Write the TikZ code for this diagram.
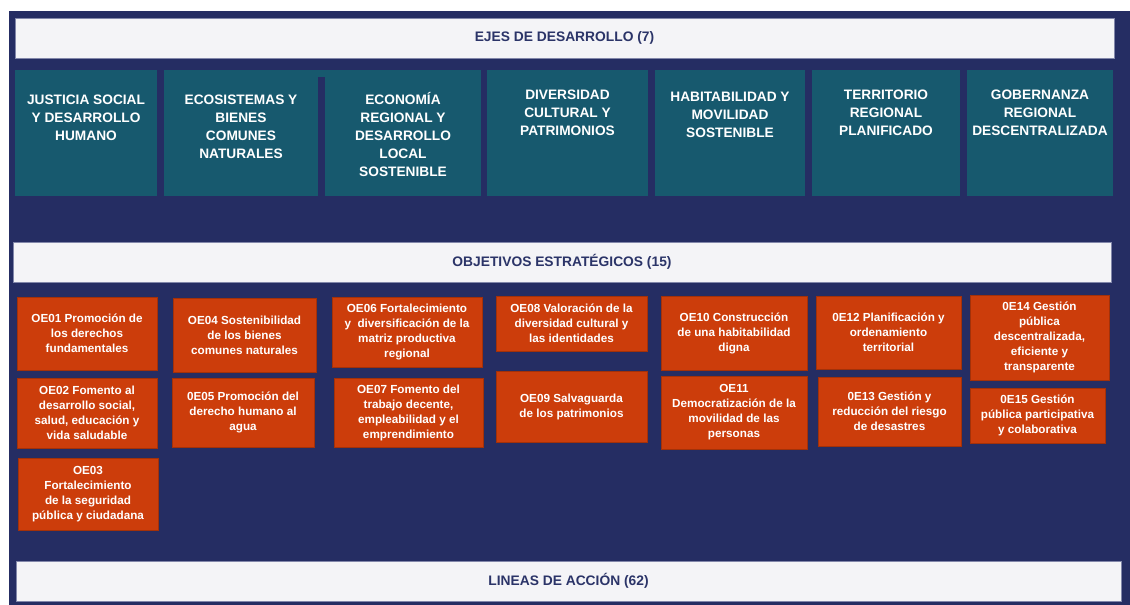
\documentclass[tikz,border=0pt]{standalone}
\usepackage{fontspec}
\setmainfont{Liberation Sans}
\usetikzlibrary{positioning}

\definecolor{fondo}{HTML}{252D63}
\definecolor{ejecolor}{HTML}{17596E}
\definecolor{oecolor}{HTML}{CC3D0B}
\definecolor{barra}{HTML}{F4F4F7}
\definecolor{borde}{HTML}{8287AA}
\definecolor{titulo}{HTML}{2B3468}

\begin{document}
\begin{tikzpicture}[x = 1pt, y = -1pt,
    bar/.style = { draw = borde, fill = barra, line width = 1pt, inner sep = 0pt,
      minimum height = 40pt, text = titulo, font = \bfseries\fontsize{13.8}{16}\selectfont },
    eje/.style = { fill = ejecolor, inner sep = 0pt, minimum height = 126pt },
    eje text/.style = { align = center, inner sep = 0pt, text = white,
      font = \bfseries\fontsize{13.7}{18}\selectfont },
    oe/.style = { fill = oecolor, draw = oecolor!80!black, line width = .4pt, align = center,
      inner sep = 0pt, text = white, font = \bfseries\fontsize{11.7}{15}\selectfont }]

  \useasboundingbox (0,0) rectangle (1130,605);
  \fill [fondo] (9,11) rectangle (1130,605);

  % ejes de desarrollo
  \node [bar, minimum width = 1099pt] (ejes) at (564.5,38) { EJES DE DESARROLLO (7) };

  \node [eje, minimum width = 142pt] (justicia) at (86,133) {};
  \node [eje text, below = 25pt of justicia.north] { JUSTICIA SOCIAL \\ Y DESARROLLO \\ HUMANO };
  \node [eje, minimum width = 154pt] (ecosistemas) at (241,133) {};
  \node [eje text, below = 25pt of ecosistemas.north] { ECOSISTEMAS Y \\ BIENES \\ COMUNES \\ NATURALES };
  \node [eje, minimum width = 156pt] (economia) at (403,133) {};
  \node [eje text, below = 22pt of economia.north] { ECONOMÍA \\ REGIONAL Y \\ DESARROLLO \\ LOCAL \\ SOSTENIBLE };
  \fill [ejecolor] (ecosistemas.north east) rectangle (economia.north west |- 0,77);
  \node [eje, minimum width = 161pt] (diversidad) at (567.5,133) {};
  \node [eje text, below = 20pt of diversidad.north] { DIVERSIDAD \\ CULTURAL Y \\ PATRIMONIOS };
  \node [eje, minimum width = 150pt] (habitabilidad) at (730,133) {};
  \node [eje text, below = 22pt of habitabilidad.north] { HABITABILIDAD Y \\ MOVILIDAD \\ SOSTENIBLE };
  \node [eje, minimum width = 148pt] (territorio) at (886,133) {};
  \node [eje text, below = 20pt of territorio.north] { TERRITORIO \\ REGIONAL \\ PLANIFICADO };
  \node [eje, minimum width = 146pt] (gobernanza) at (1040,133) {};
  \node [eje text, below = 20pt of gobernanza.north] { GOBERNANZA \\ REGIONAL \\ DESCENTRALIZADA };

  % objetivos estrategicos
  \node [bar, minimum width = 1098pt] (objetivos) at (562,262) { OBJETIVOS ESTRATÉGICOS (15) };

  \node [oe, minimum width = 140pt, minimum height = 73pt] (oe01) at (87,333.5) { OE01 Promoción de \\ los derechos \\ fundamentales };
  \node [oe, minimum width = 140pt, minimum height = 70pt] (oe02) at (87,413) { OE02 Fomento al \\ desarrollo social, \\ salud, educación y \\ vida saludable };
  \node [oe, minimum width = 140pt, minimum height = 72pt] (oe03) at (88,494) { OE03 \\ Fortalecimiento \\ de la seguridad \\ pública y ciudadana };
  \node [oe, minimum width = 143pt, minimum height = 74pt] (oe04) at (244.5,335) { OE04 Sostenibilidad \\ de los bienes \\ comunes naturales };
  \node [oe, minimum width = 142pt, minimum height = 69pt] (oe05) at (243,412.5) { 0E05 Promoción del \\ derecho humano al \\ agua };
  \node [oe, minimum width = 150pt, minimum height = 70pt] (oe06) at (407,332) { OE06 Fortalecimiento \\ y\ \ diversificación de la \\ matriz productiva \\ regional };
  \node [oe, minimum width = 149pt, minimum height = 69pt] (oe07) at (408.5,412.5) { OE07 Fomento del \\ trabajo decente, \\ empleabilidad y el \\ emprendimiento };
  \node [oe, minimum width = 151pt, minimum height = 55pt] (oe08) at (571.5,323.5) { OE08 Valoración de la \\ diversidad cultural y \\ las identidades };
  \node [oe, minimum width = 151pt, minimum height = 71pt] (oe09) at (571.5,406.5) { OE09 Salvaguarda \\ de los patrimonios };
  \node [oe, minimum width = 146pt, minimum height = 74pt] (oe10) at (734,333) { OE10 Construcción \\ de una habitabilidad \\ digna };
  \node [oe, minimum width = 146pt, minimum height = 73pt] (oe11) at (734,412.5) { OE11 \\ Democratización de la \\ movilidad de las \\ personas };
  \node [oe, minimum width = 145pt, minimum height = 73pt] (oe12) at (888.5,332.5) { 0E12 Planificación y \\ ordenamiento \\ territorial };
  \node [oe, minimum width = 143pt, minimum height = 69pt] (oe13) at (889.5,411.5) { 0E13 Gestión y \\ reducción del riesgo \\ de desastres };
  \node [oe, minimum width = 139pt, minimum height = 85pt] (oe14) at (1039.5,337.5) { 0E14 Gestión \\ pública \\ descentralizada, \\ eficiente y \\ transparente };
  \node [oe, minimum width = 135pt, minimum height = 55pt] (oe15) at (1037.5,415.5) { 0E15 Gestión \\ pública participativa \\ y colaborativa };

  % lineas de accion
  \node [bar, minimum width = 1105pt] (lineas) at (568.5,581) { LINEAS DE ACCIÓN (62) };
\end{tikzpicture}
\end{document}
